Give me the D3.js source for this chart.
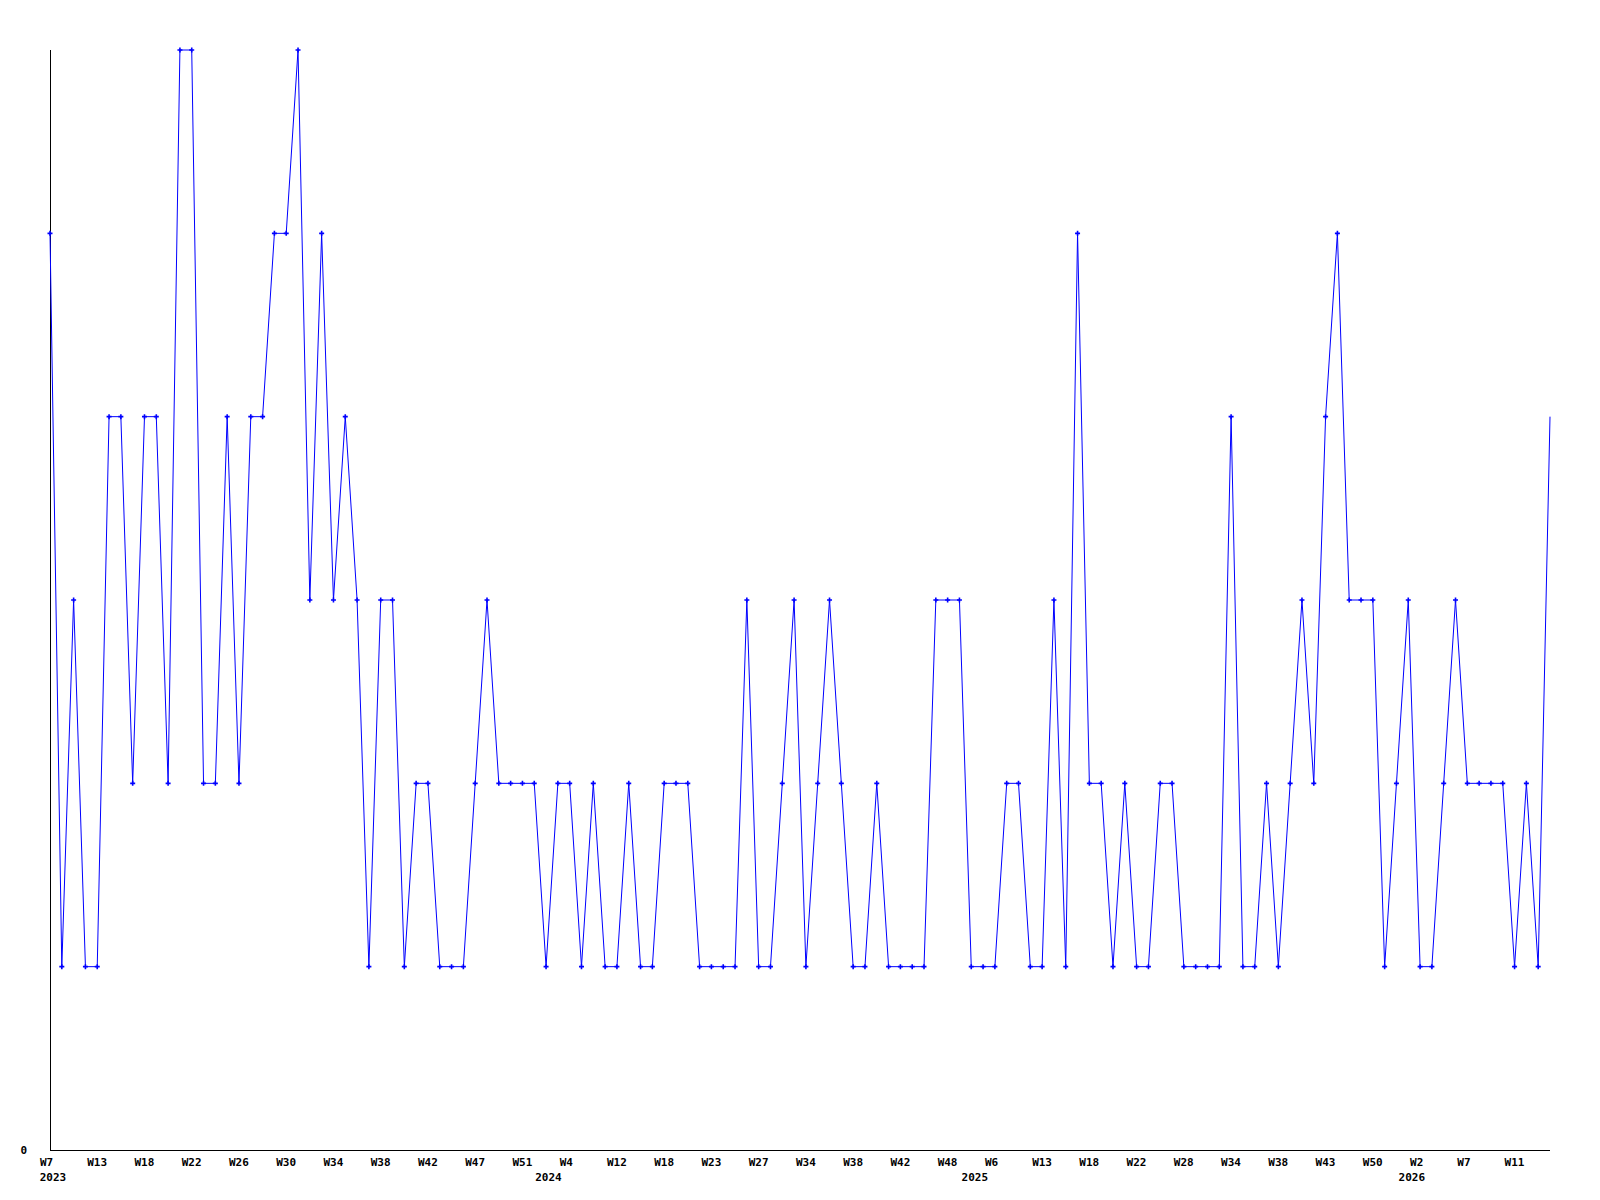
<!DOCTYPE html>
<html>
<head>
<meta charset="utf-8">
<script src="https://cdn.jsdelivr.net/npm/d3@7"></script>
<style>
  body { margin: 0; background: #fff; }
  text { font-family: "DejaVu Sans Mono", "Liberation Mono", monospace; font-weight: bold; font-size: 11px; fill: #000; }
</style>
</head>
<body>
<div id="chart"></div>
<script>
// Data___________________________________________________________________
// one value per plotted week (weeks without data are skipped by the source)
const values = [
  5, 1, 3, 1, 1, 4, 4, 2, 4, 4, 2, 6, 6, 2, 2, 4,
  2, 4, 4, 5, 5, 6, 3, 5, 3, 4, 3, 1, 3, 3, 1, 2,
  2, 1, 1, 1, 2, 3, 2, 2, 2, 2, 1, 2, 2, 1, 2, 1,
  1, 2, 1, 1, 2, 2, 2, 1, 1, 1, 1, 3, 1, 1, 2, 3,
  1, 2, 3, 2, 1, 1, 2, 1, 1, 1, 1, 3, 3, 3, 1, 1,
  1, 2, 2, 1, 1, 3, 1, 5, 2, 2, 1, 2, 1, 1, 2, 2,
  1, 1, 1, 1, 4, 1, 1, 2, 1, 2, 3, 2, 4, 5, 3, 3,
  3, 1, 2, 3, 1, 1, 2, 3, 2, 2, 2, 2, 1, 2, 1, 4
];
// a week label on every 4th point
const weekLabels = [
  'W7', 'W13', 'W18', 'W22', 'W26', 'W30', 'W34', 'W38', 'W42', 'W47', 'W51',
  'W4', 'W12', 'W18', 'W23', 'W27', 'W34', 'W38', 'W42', 'W48',
  'W6', 'W13', 'W18', 'W22', 'W28', 'W34', 'W38', 'W43', 'W50',
  'W2', 'W7', 'W11'
];
const labelStep = 4;
// year labels, placed at the (fractional) point index where the year starts
const years = ['2023', '2024', '2025', '2026'];
const yearAt = [0.25, 42.2, 78.3, 115.3];
const yMax = 6;

// Layout_________________________________________________________________
const width = 1600;
const height = 1200;
const plotLeft = 50, plotRight = 1550, plotTop = 50, plotBottom = 1150;

const svg = d3.select('#chart')
  .append('svg')
  .attr('width', width)
  .attr('height', height);

const xScale = d3.scaleLinear()
  .domain([0, values.length - 1])
  .range([plotLeft, plotRight]);
const yScale = d3.scaleLinear()
  .domain([0, yMax])
  .range([plotBottom, plotTop]);

// Axes___________________________________________________________________
svg.append('line')
  .attr('x1', plotLeft + 0.5).attr('x2', plotLeft + 0.5)
  .attr('y1', plotTop).attr('y2', plotBottom)
  .attr('stroke', '#000').attr('stroke-width', 1);
svg.append('line')
  .attr('x1', plotLeft).attr('x2', plotRight)
  .attr('y1', plotBottom + 0.5).attr('y2', plotBottom + 0.5)
  .attr('stroke', '#000').attr('stroke-width', 1);

svg.append('text')
  .attr('x', 27)
  .attr('y', yScale(0) + 4)
  .attr('text-anchor', 'end')
  .text('0');

// week labels: fixed width 3 chars, left edge 10px before the point
svg.append('g')
  .selectAll('text')
  .data(weekLabels)
  .enter()
  .append('text')
  .attr('x', (d, i) => xScale(i * labelStep) - 10)
  .attr('y', 1166)
  .text(d => d);

svg.append('g')
  .selectAll('text')
  .data(years)
  .enter()
  .append('text')
  .attr('x', (d, i) => xScale(yearAt[i]))
  .attr('y', 1181)
  .attr('text-anchor', 'middle')
  .text(d => d);

// Line___________________________________________________________________
const line = d3.line()
  .x((d, i) => xScale(i))
  .y(d => yScale(d));

svg.append('path')
  .datum(values)
  .attr('fill', 'none')
  .attr('stroke', '#0000ff')
  .attr('stroke-width', 1)
  .attr('d', line);

// markers (the last point is drawn without one)
svg.append('g')
  .selectAll('path')
  .data(values.slice(0, -1))
  .enter()
  .append('path')
  .attr('transform', (d, i) => `translate(${xScale(i)},${yScale(d)})`)
  .attr('d', 'M-2.5,0H2.5M0,-2.5V2.5')
  .attr('stroke', '#0000ff')
  .attr('stroke-width', 1.6)
  .attr('fill', 'none');
</script>
</body>
</html>
